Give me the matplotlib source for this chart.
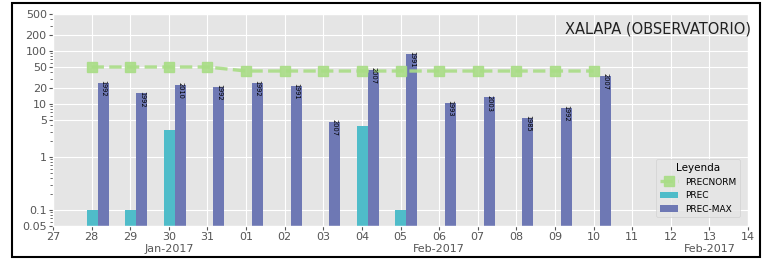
import datetime as dt

import matplotlib.dates as mdates
import matplotlib.pyplot as plt
import numpy as np
from matplotlib.patches import Rectangle
from matplotlib.ticker import FixedLocator, FuncFormatter, NullFormatter

days = [dt.datetime(2017, 1, 28) + dt.timedelta(days=i) for i in range(14)]
prec = [0.1, 0.1, 3.3, None, None, None, None, 3.9, 0.1, None, None, None, None, None]
prec_max = [25, 16, 23, 21, 25, 22, 4.6, 44, 89, 10.5, 13.4, 5.5, 8.4, 34]
prec_norm = [50, 50, 50, 50, 42, 42, 42, 42, 42, 42, 42, 42, 42, 42]
years = ["1992", "1992", "2010", "1992", "1992", "1991", "2007",
         "2007", "1991", "1993", "2003", "1985", "1992", "2007"]
yticks = [0.05, 0.1, 1, 5, 10, 20, 50, 100, 200, 500]
title = "XALAPA (OBSERVATORIO)"

plt.style.use("ggplot")
fig = plt.figure(figsize=(7.64, 2.60), dpi=100)
ax = fig.add_axes([53 / 764, 1 - 226 / 260, 695 / 764, 212 / 260])

x = mdates.date2num(days)
prec_arr = np.array([np.nan if v is None else v for v in prec], dtype=float)
w = 0.285

ax.plot(x, prec_norm, ls="--", lw=2.4, color="#a9dd86", marker="s", ms=6.5,
        alpha=0.9, label="PRECNORM", zorder=3)
ax.bar(x - 0.13, prec_arr, width=w, align="edge", color="#4fbcc9",
       label="PREC", zorder=2)
ax.bar(x + 0.155, prec_max, width=w, align="edge", color="#6e78b4",
       label="PREC-MAX", zorder=2)

for xi, v, yr in zip(x, prec_max, years):
    ax.text(xi + 0.3, v * 1.12, yr, rotation=270, ha="center", va="top",
            fontsize=4.8, color="black", zorder=4)

ax.set_yscale("log")
ax.set_ylim(0.05, 500)
ax.yaxis.set_major_locator(FixedLocator(yticks))
ax.yaxis.set_major_formatter(FuncFormatter(lambda v, p: f"{v:g}"))
ax.yaxis.set_minor_formatter(NullFormatter())

ax.set_xlim(mdates.date2num(dt.datetime(2017, 1, 27)),
            mdates.date2num(dt.datetime(2017, 2, 14)))
ax.xaxis.set_major_locator(mdates.DayLocator())
ax.xaxis.set_major_formatter(mdates.DateFormatter("%d"))
ax.xaxis.set_minor_locator(mdates.WeekdayLocator(byweekday=mdates.MO))
ax.xaxis.set_minor_formatter(mdates.DateFormatter("%b-%Y"))
ax.xaxis.remove_overlapping_locs = False
ax.tick_params(axis="both", which="major", labelsize=8, colors="#555555",
               length=3, pad=1.5)
ax.tick_params(axis="x", which="minor", length=0, pad=13, labelsize=8,
               labelcolor="#555555")

ax.text(1.005, 0.93, title, transform=ax.transAxes, ha="right", va="center",
        fontsize=10.5, color="#222222")

leg = ax.legend(loc="lower right", title="Leyenda", fontsize=6.5,
                title_fontsize=7.5, bbox_to_anchor=(0.995, 0.02))

fig.patches.append(Rectangle((12 / 764, 3 / 260), 748 / 764, 254 / 260,
                             transform=fig.transFigure, fill=False,
                             edgecolor="black", lw=1.5))

fig.savefig("out.png", dpi=100)
